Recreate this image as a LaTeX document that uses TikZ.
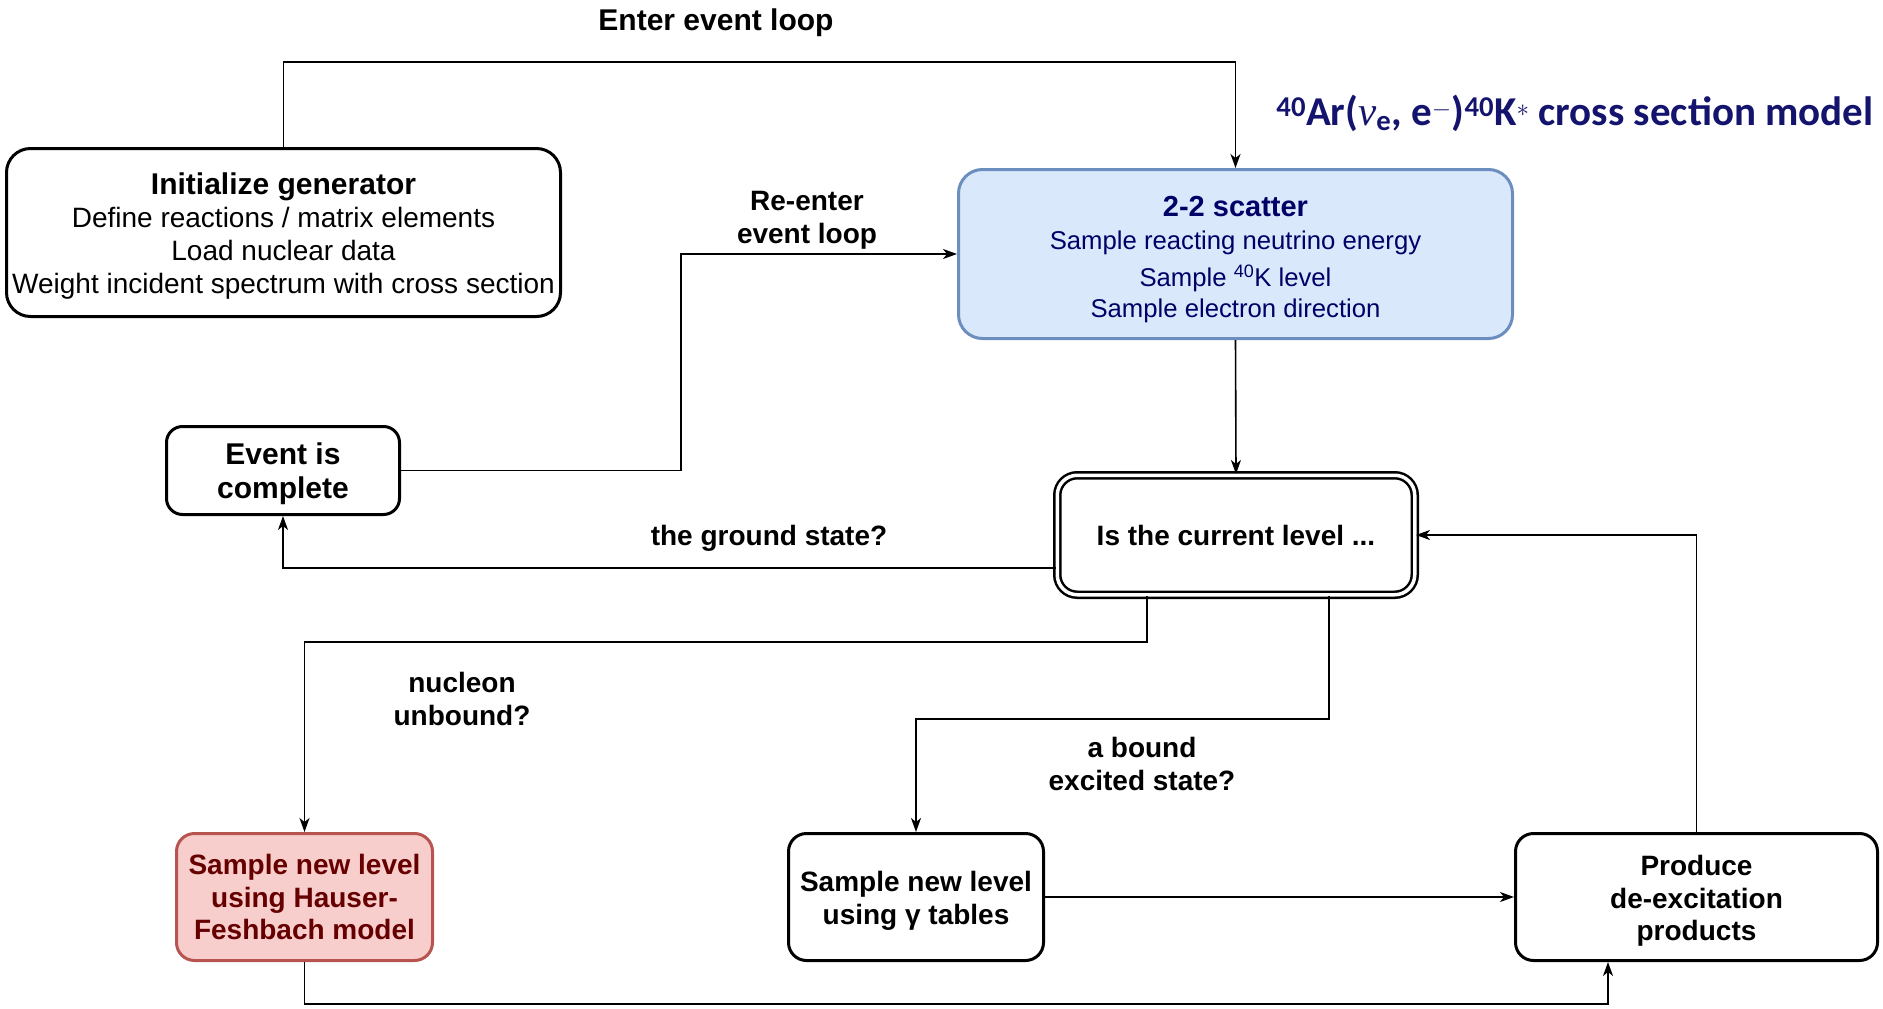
\documentclass[tikz,border=0pt]{standalone}
\usepackage{fontspec}
\setmainfont{Liberation Sans}
\newfontfamily\carlito{Carlito}
\newfontfamily\nufont{Liberation Serif}
\usetikzlibrary{arrows.meta,calc}
\definecolor{navy}{RGB}{0,0,102}
\definecolor{titlenavy}{RGB}{20,20,110}
\definecolor{bluefill}{HTML}{DAE8FC}
\definecolor{bluedraw}{HTML}{6C8EBF}
\definecolor{redfill}{HTML}{F8CECC}
\definecolor{reddraw}{HTML}{B85450}
\definecolor{darkred}{HTML}{660000}
\newcommand{\dnstrut}[1]{\rule{0pt}{#1}}
\begin{document}
\begin{tikzpicture}[x=1pt,y=-1pt,
  box/.style={draw=black, fill=white, line width=3pt, align=center, inner sep=0pt,
    font=\fontsize{28}{33}\selectfont},
  lbl/.style={align=center, inner sep=0pt, font=\bfseries\fontsize{28}{33}\selectfont},
  conn/.style={line width=1.6pt, -{Stealth[length=14pt,width=10pt,inset=4pt]}}
]
\useasboundingbox (0,0) rectangle (1883,1009);

% nodes
\node[box, rounded corners=24pt, minimum width=554pt, minimum height=168pt] (init) at (283.5,232.5)
  {\dnstrut{28pt}{\bfseries\fontsize{30}{33}\selectfont Initialize generator}\\Define reactions / matrix elements\\Load nuclear data\\Weight incident spectrum with cross section};

\node[box, rounded corners=24pt, minimum width=554pt, minimum height=169pt,
  fill=bluefill, draw=bluedraw, text=navy, font=\fontsize{25.7}{33}\selectfont] (scatter) at (1235.5,254)
  {\dnstrut{31pt}{\bfseries\fontsize{29}{33}\selectfont 2-2 scatter}\\Sample reacting neutrino energy\\[4pt]Sample \textsuperscript{40}K level\\[-2pt]Sample electron direction};

\node[box, rounded corners=16pt, minimum width=233pt, minimum height=88pt, font=\bfseries\fontsize{30}{34}\selectfont] (event) at (283,470.5)
  {\dnstrut{28pt}Event is\\complete};

\node[box, rounded corners=20pt, minimum width=357.5pt, minimum height=119.5pt,
  line width=2.5pt, double=white, double distance=3.5pt, font=\bfseries\fontsize{28}{33}\selectfont] (islevel) at (1236,535)
  {Is the current level ...};

\node[box, rounded corners=18pt, minimum width=256pt, minimum height=127pt,
  fill=redfill, draw=reddraw, text=darkred, font=\bfseries\fontsize{28}{32.5}\selectfont] (hf) at (304.5,897)
  {Sample new level\\using Hauser-\\Feshbach model};

\node[box, rounded corners=18pt, minimum width=255pt, minimum height=127pt, font=\bfseries\fontsize{28}{33}\selectfont] (gamma) at (916,897)
  {\dnstrut{28.5pt}Sample new level\\using γ tables};

\node[box, rounded corners=18pt, minimum width=362pt, minimum height=127pt, font=\bfseries\fontsize{28}{32.5}\selectfont] (produce) at (1696.5,897)
  {\dnstrut{28.5pt}Produce\\de-excitation\\products};

% title
\node[inner sep=0pt, text=titlenavy, font=\carlito\bfseries\fontsize{41}{44}\selectfont] (title) at (1575,113)
  {\textsuperscript{40}Ar({\nufont\itshape\mdseries ν}\textsubscript{e}, e\textsuperscript{$-$})\textsuperscript{40}K\textsuperscript{$\ast$} cross section model};

% labels
\node[lbl, font=\bfseries\fontsize{30}{33}\selectfont] (l1) at (716,23) {Enter event loop};
\node[lbl] (l2) at (807,220) {Re-enter\\event loop};
\node[lbl] (l3) at (769,538) {the ground state?};
\node[lbl] (l4) at (462,699) {nucleon\\unbound?};
\node[lbl] (l5) at (1142,764) {a bound\\excited state?};

% connectors
\draw[conn] (init.north) -- ++(0,-85) -| (scatter.north);
\draw[conn] (event.east) -- ++(280,0) |- (scatter.west);
\draw[conn] (scatter.south) -- (islevel.north);
\draw[conn] ($(islevel.west)+(0,33)$) -| (event.south);
\draw[conn] ($(islevel.south)+(-89,0)$) -- ++(0,46) -| (hf.north);
\draw[conn] ($(islevel.south)+(93,0)$) -- ++(0,123) -| (gamma.north);
\draw[conn] (gamma) -- (produce);
\draw[conn] (hf.south) -- ++(0,42) -| ($(produce.south)+(-88.5,0)$);
\draw[conn] (produce.north) |- (islevel.east);
\end{tikzpicture}
\end{document}
